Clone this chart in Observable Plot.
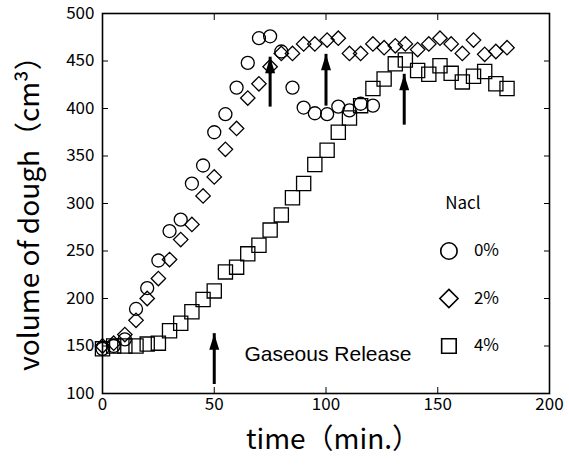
<!DOCTYPE html>
<html>
<head>
<meta charset="utf-8">
<script src="https://cdn.jsdelivr.net/npm/d3@7"></script>
<script src="https://cdn.jsdelivr.net/npm/@observablehq/plot@0.6"></script>
<style>
  html, body { margin: 0; padding: 0; background: #fff; }
  #chart { width: 569px; height: 466px; }
</style>
</head>
<body>
<div id="chart"></div>
<script>
// time (min.)
const times = [0, 5, 10, 15, 20, 25, 30, 35, 40, 45, 50, 55, 60, 65, 70, 75, 80, 85, 90, 95,
  100.5, 105.5, 110.5, 115.5, 121, 126, 131, 135.5, 141, 146, 151, 156, 161, 166, 171, 176, 181];

// volume of dough (cm3), NaCl 0% (measured to 120 min)
const nacl0 = [147, 150, 157, 189, 211, 240, 271, 283, 321, 340, 375, 394, 422, 448, 474, 476,
  460, 422, 401, 395, 394, 402, 398, 405, 403];
// NaCl 2%
const nacl2 = [150, 153, 162, 177, 200, 221, 241, 262, 278, 308, 328, 357, 379, 411, 426, 444,
  458, 458, 468, 468, 472, 474, 458, 458, 468, 464, 466, 468, 462, 468, 474, 468, 458, 472, 457, 460, 464];
// NaCl 4%
const nacl4 = [147, 150, 150, 150, 152, 153, 166, 174, 186, 199, 208, 228, 233, 247, 256, 272,
  288, 306, 321, 341, 356, 375, 390, 403, 421, 431, 447, 451, 440, 436, 445, 437, 428, 434, 439, 426, 421];

const xTicks = [0, 50, 100, 150, 200];
const yTicks = [100, 150, 200, 250, 300, 350, 400, 450, 500];

// "Gaseous Release" arrows: time, base and tip volume
const arrowTimes = [75, 100, 135, 50];
const arrowBase = [412, 413, 393, 120];
const arrowTip = [454, 457, 436, 163];

const legendTitle = "Nacl";
const legendLabels = ["0%", "2%", "4%"];
const legendSymbols = ["circle", "diamond2", "square"];
const annotation = "Gaseous Release";

const toRows = (vals) => vals.map((v, i) => ({t: times[i], v}));
const d0 = toRows(nacl0), d2 = toRows(nacl2), d4 = toRows(nacl4);
const arrows = arrowTimes.map((t, i) => ({t, base: arrowBase[i], tip: arrowTip[i]}));
const legend = legendLabels.map((label, i) => ({label, symbol: legendSymbols[i], y: 250 - 50 * i}));

const arrowHead = {
  draw(ctx) {
    ctx.moveTo(0, 0);
    ctx.lineTo(5, 16);
    ctx.lineTo(-5, 16);
    ctx.closePath();
  }
};

const JP = "'Noto Sans CJK JP', 'Noto Sans', sans-serif";

const chart = Plot.plot({
  width: 569,
  height: 466,
  marginTop: 13,
  marginBottom: 73,
  marginLeft: 102,
  marginRight: 20,
  style: {fontFamily: JP, fontSize: "17px", color: "#000", background: "#fff", overflow: "visible"},
  x: {domain: [0, 200]},
  y: {domain: [100, 500]},
  marks: [
    Plot.axisX({anchor: "bottom", ticks: xTicks, tickSize: -6, tickPadding: 10, label: null, fontSize: 17}),
    Plot.axisX({anchor: "top", ticks: xTicks, tickSize: -6, tickFormat: () => "", label: null}),
    Plot.axisY({anchor: "left", ticks: yTicks, tickSize: -6, tickPadding: 14, label: null, fontSize: 17}),
    Plot.axisY({anchor: "right", ticks: yTicks, tickSize: -6, tickFormat: () => "", label: null}),
    Plot.frame({stroke: "#000", strokeWidth: 1.6}),
    Plot.dot(d0, {x: "t", y: "v", symbol: "circle", r: 6.5, stroke: "#000", strokeWidth: 1.3, fill: "none"}),
    Plot.dot(d2, {x: "t", y: "v", symbol: "diamond2", r: 6.5, stroke: "#000", strokeWidth: 1.3, fill: "none"}),
    Plot.dot(d4, {x: "t", y: "v", symbol: "square", r: 8, stroke: "#000", strokeWidth: 1.3, fill: "none"}),
    Plot.ruleX(arrows, {x: "t", y1: "base", y2: "tip", stroke: "#000", strokeWidth: 3, insetTop: 10}),
    Plot.dot(arrows, {x: "t", y: "tip", symbol: arrowHead, fill: "#000", stroke: "none"}),
    Plot.text([annotation], {x: 63.5, y: 141, text: d => d, textAnchor: "start", lineAnchor: "middle",
      fontFamily: "'Liberation Sans', Arial, sans-serif", fontSize: 21}),
    Plot.text([legendTitle], {x: 155, y: 300, dx: 14, text: d => d, textAnchor: "middle", lineAnchor: "middle", fontSize: 17}),
    Plot.dot(legend, {x: () => 155, y: "y", symbol: "symbol", r: 8.2, stroke: "#000", strokeWidth: 1.6, fill: "none"}),
    Plot.text(legend, {x: () => 155, y: "y", dx: 25, text: "label", textAnchor: "start", lineAnchor: "middle", fontSize: 17}),
    Plot.text(["time（min.）"], {frameAnchor: "bottom", dx: 7, dy: 47, text: d => d, textAnchor: "middle", lineAnchor: "middle", fontSize: 28}),
    Plot.text(["volume of dough（cm³）"], {frameAnchor: "left", dx: -72, dy: 3, rotate: -90, text: d => d, textAnchor: "middle", lineAnchor: "middle", fontSize: 28})
  ]
});
document.getElementById("chart").appendChild(chart);
</script>
</body>
</html>
